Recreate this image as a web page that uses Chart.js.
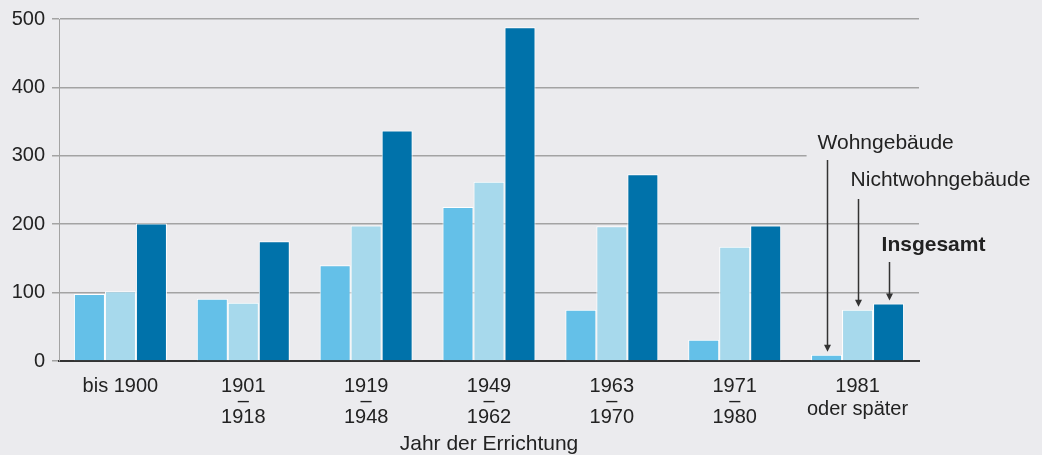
<!DOCTYPE html>
<html>
<head>
<meta charset="utf-8">
<script src="https://cdn.jsdelivr.net/npm/chart.js@4.4.0/dist/chart.umd.min.js"></script>
<style>
  html, body { margin: 0; padding: 0; background: #ebebee; }
  #wrap { width: 1042px; height: 455px; position: relative; }
</style>
</head>
<body>
<div id="wrap"><canvas id="c" width="1042" height="455"></canvas></div>
<script>
// ---- data ----
const categories = ["bis 1900", "1901–1918", "1919–1948", "1949–1962", "1963–1970", "1971–1980", "1981 oder später"];
const tickLabels = [
  ["bis 1900", "", ""],
  ["1901", "–", "1918"],
  ["1919", "–", "1948"],
  ["1949", "–", "1962"],
  ["1963", "–", "1970"],
  ["1971", "–", "1980"],
  ["1981", "oder später"]
];
const seriesNames = ["Wohngebäude", "Nichtwohngebäude", "Insgesamt"];
const wohngebaeude      = [98, 91, 140, 225, 75, 31, 9];
const nichtwohngebaeude = [102, 85, 198, 262, 197, 167, 75];
const insgesamt         = [201, 175, 337, 488, 273, 198, 84];
const yTickValues = [0, 100, 200, 300, 400, 500];
const axisTitle = "Jahr der Errichtung";

// ---- styles ----
const BG = "#ebebee";
const TEXT = "#222222";
const GRID = "#a3a3a3";
const colors = ["#64c0e8", "#a7d9ec", "#0072aa"];
const FONT = "'Liberation Sans', Arial, Helvetica, sans-serif";

// annotation layout (pixel offsets relative to the last group's bars)
const annot = [
  { dx: -9, labelY: 143, lineStart: 160, bold: false },
  { dx: -7, labelY: 180, lineStart: 199, bold: false },
  { dx: -7, labelY: 245, lineStart: 262, bold: true }
];

const annotationPlugin = {
  id: "annotations",
  beforeDatasetsDraw(chart) {
    // clear the gridline behind the top label area
    const ctx = chart.ctx;
    const meta = chart.getDatasetMeta(0);
    const bar = meta.data[meta.data.length - 1];
    const a = annot[0];
    ctx.save();
    ctx.fillStyle = BG;
    ctx.fillRect(bar.x + a.dx - 11, a.labelY + 6, chart.chartArea.right - (bar.x + a.dx - 11) + 3, a.lineStart - a.labelY - 6);
    ctx.restore();
  },
  afterDatasetsDraw(chart) {
    const ctx = chart.ctx;
    ctx.save();
    seriesNames.forEach((name, i) => {
      const meta = chart.getDatasetMeta(i);
      const bar = meta.data[meta.data.length - 1];
      const a = annot[i];
      ctx.font = (a.bold ? "bold " : "") + "21px " + FONT;
      ctx.fillStyle = TEXT;
      ctx.textAlign = "left";
      ctx.textBaseline = "middle";
      ctx.fillText(name, bar.x + a.dx, a.labelY);
      const x = Math.round(bar.x) + 0.5;
      const tip = bar.y - 3;
      ctx.strokeStyle = "#333";
      ctx.lineWidth = 1.5;
      ctx.beginPath();
      ctx.moveTo(x, a.lineStart);
      ctx.lineTo(x, tip - 5);
      ctx.stroke();
      ctx.fillStyle = "#333";
      ctx.beginPath();
      ctx.moveTo(x - 3.5, tip - 7);
      ctx.lineTo(x + 3.5, tip - 7);
      ctx.lineTo(x, tip);
      ctx.closePath();
      ctx.fill();
    });
    ctx.restore();
  }
};

new Chart(document.getElementById("c"), {
  type: "bar",
  data: {
    labels: tickLabels,
    datasets: seriesNames.map((name, i) => ({
      label: name,
      data: [wohngebaeude, nichtwohngebaeude, insgesamt][i],
      backgroundColor: colors[i],
      borderColor: "#ffffff",
      borderWidth: 1,
      barPercentage: 1.0,
      categoryPercentage: 0.757
    }))
  },
  options: {
    responsive: false,
    devicePixelRatio: 1,
    animation: false,
    layout: { padding: { left: 11, right: 123, top: 19, bottom: 0 } },
    plugins: { legend: { display: false }, tooltip: { enabled: false } },
    scales: {
      x: {
        grid: { display: false },
        border: { display: true, color: "#333333", width: 2 },
        ticks: {
          autoSkip: false,
          maxRotation: 0,
          minRotation: 0,
          color: TEXT,
          padding: 17,
          crossAlign: "center",
          font: (ctx) => ({ family: FONT, size: 20, lineHeight: ctx.index === 6 ? "23px" : "15.5px" })
        },
        title: {
          display: true,
          text: axisTitle,
          color: TEXT,
          font: { family: FONT, size: 21, lineHeight: 1.05 },
          padding: { top: 0, bottom: 0 }
        },
        afterFit: (s) => { s.height = 94; }
      },
      y: {
        min: 0,
        max: 500,
        afterBuildTicks: (s) => { s.ticks = yTickValues.map(v => ({ value: v })); },
        ticks: { color: TEXT, padding: 7, font: { family: FONT, size: 20 } },
        grid: { color: GRID, lineWidth: 1.5, tickLength: 7 },
        border: { display: true, color: GRID, width: 1 },
        afterFit: (s) => { s.width = 48; }
      }
    }
  },
  plugins: [annotationPlugin]
});
</script>
</body>
</html>
